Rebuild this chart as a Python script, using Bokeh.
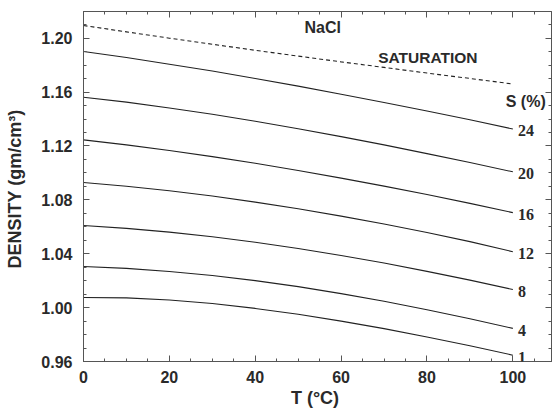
from bokeh.plotting import figure
from bokeh.models import (LinearAxis, Range1d, ColumnDataSource, Label, LabelSet, Title,
                          FixedTicker, NumeralTickFormatter, CustomJSTickFormatter)
from bokeh.embed import file_html
from bokeh.resources import INLINE

# ---- data ----
T = [0, 10, 20, 30, 40, 50, 60, 70, 80, 90, 100]
saturation = [1.2094, 1.2047, 1.2000, 1.1955, 1.1910, 1.1867, 1.1824, 1.1783, 1.1741, 1.1701, 1.1660]
s24 = [1.1901, 1.1856, 1.1807, 1.1756, 1.1701, 1.1644, 1.1584, 1.1523, 1.1459, 1.1394, 1.1326]
s20 = [1.1562, 1.1525, 1.1482, 1.1435, 1.1383, 1.1328, 1.1269, 1.1208, 1.1143, 1.1077, 1.1008]
s16 = [1.1245, 1.1208, 1.1166, 1.1121, 1.1071, 1.1018, 1.0961, 1.0902, 1.0839, 1.0774, 1.0705]
s12 = [1.0929, 1.0901, 1.0867, 1.0828, 1.0783, 1.0734, 1.0679, 1.0621, 1.0558, 1.0490, 1.0415]
s8 = [1.0609, 1.0588, 1.0560, 1.0526, 1.0485, 1.0439, 1.0387, 1.0331, 1.0269, 1.0204, 1.0134]
s4 = [1.0305, 1.0291, 1.0268, 1.0238, 1.0200, 1.0156, 1.0104, 1.0047, 0.9984, 0.9917, 0.9846]
s1 = [1.0075, 1.0072, 1.0056, 1.0030, 0.9994, 0.9951, 0.9900, 0.9844, 0.9782, 0.9717, 0.9647]
salinity_series = [s24, s20, s16, s12, s8, s4, s1]
salinity_labels = ["24", "20", "16", "12", "8", "4", "1"]

x_ticks = [0, 20, 40, 60, 80, 100]
x_minor = [5, 10, 15, 25, 30, 35, 45, 50, 55, 65, 70, 75, 85, 90, 95, 105]
y_ticks = [0.96, 1.00, 1.04, 1.08, 1.12, 1.16, 1.20]
y_minor = [0.97, 0.98, 0.99, 1.01, 1.02, 1.03, 1.05, 1.06, 1.07, 1.09, 1.10, 1.11,
           1.13, 1.14, 1.15, 1.17, 1.18, 1.19, 1.21]

FONT = "Liberation Sans"
TXT = "#2a2a2a"
LINE = "#222222"
AX = "#555555"

p = figure(width=553, height=414, output_backend="svg", toolbar_location=None,
           x_range=Range1d(0, 109), y_range=Range1d(0.96, 1.2198),
           min_border_left=83, min_border_right=2, min_border_top=11, min_border_bottom=53,
           y_axis_label="DENSITY  (gm/cm³)")
p.grid.visible = False
p.outline_line_color = AX
p.outline_line_width = 1
p.background_fill_color = "white"
p.border_fill_color = "white"

xt = FixedTicker(ticks=x_ticks, minor_ticks=x_minor)
yt = FixedTicker(ticks=y_ticks, minor_ticks=y_minor)

def style(ax):
    ax.axis_line_color = AX
    ax.major_tick_line_color = AX
    ax.minor_tick_line_color = AX
    ax.major_tick_line_width = 1
    ax.minor_tick_line_width = 1
    ax.major_tick_in = 6
    ax.major_tick_out = 0
    ax.minor_tick_in = 3
    ax.minor_tick_out = 0
    ax.major_label_text_font = FONT
    ax.major_label_text_font_style = "bold"
    ax.major_label_text_font_size = "16px"
    ax.major_label_text_color = TXT
    ax.axis_label_text_font = FONT
    ax.axis_label_text_font_style = "bold"
    ax.axis_label_text_font_size = "18px"
    ax.axis_label_text_color = TXT

xa = p.xaxis[0]
xa.ticker = xt
style(xa)
xa.major_label_standoff = 9

ya = p.yaxis[0]
ya.ticker = yt
ya.formatter = NumeralTickFormatter(format="0.00")
style(ya)
ya.major_label_standoff = 11
ya.axis_label_standoff = 13

blank = CustomJSTickFormatter(code="return ''")
top = LinearAxis(ticker=xt, formatter=blank)
style(top)
top.major_label_standoff = 0
p.add_layout(top, "above")

right = LinearAxis(ticker=yt, formatter=blank)
style(right)
right.major_label_standoff = 0
p.add_layout(right, "right")

# saturation line
p.line(T, saturation, line_color=LINE, line_width=1.1, line_dash="4 3")

for ser in salinity_series:
    p.line(T, ser, line_color=LINE, line_width=1.1)

lab_src = ColumnDataSource(dict(x=[101.2] * len(salinity_labels),
                                y=[s[-1] for s in salinity_series],
                                t=salinity_labels))
p.add_layout(LabelSet(x="x", y="y", text="t", source=lab_src, y_offset=-2,
                      text_font=FONT, text_font_style="bold", text_font_size="16px",
                      text_color=TXT, text_baseline="middle", text_align="left"))

p.add_layout(Label(x=55.7, y=1.2080, text="NaCl", text_font=FONT, text_font_style="bold",
                   text_font_size="16px", text_color=TXT, text_align="center",
                   text_baseline="middle"))
p.add_layout(Label(x=80.2, y=1.1853, text="SATURATION", text_font=FONT, text_font_style="bold",
                   text_font_size="15.5px", text_color=TXT, text_align="center",
                   text_baseline="middle"))
p.add_layout(Label(x=103.0, y=1.1530, text="S (%)", text_font=FONT, text_font_style="bold",
                   text_font_size="16px", text_color=TXT, text_align="center",
                   text_baseline="middle"))
# x axis title, slightly left of centre as in the reference
p.add_layout(Title(text="T  (°C)", align="center", offset=-20, standoff=0,
                   text_font=FONT, text_font_style="bold", text_font_size="18px",
                   text_color=TXT), "below")

open("out.html", "w").write(file_html(p, INLINE))
